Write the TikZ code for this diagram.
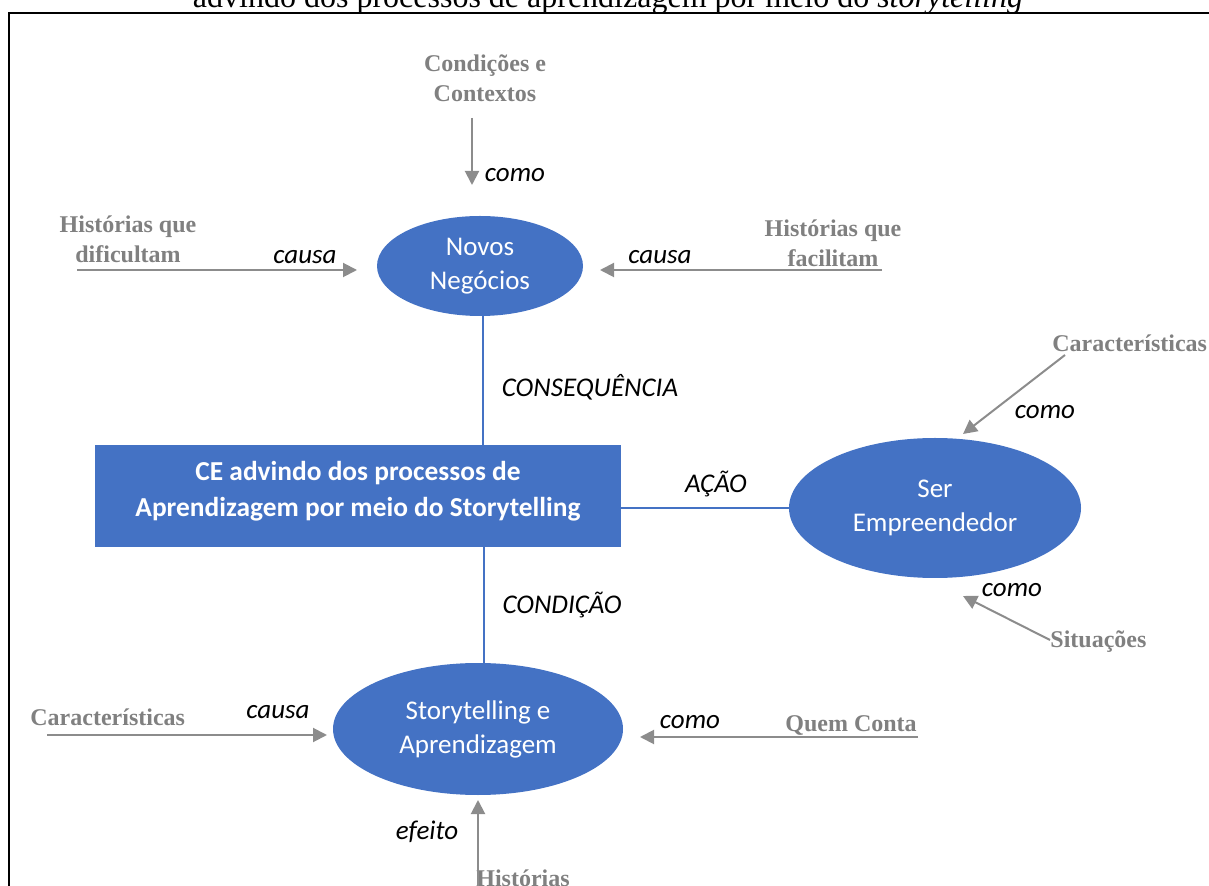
\documentclass[tikz,border=0pt]{standalone}
\usepackage{fontspec}
\setmainfont{Carlito}
\newfontfamily\serifface{Liberation Serif}
\usetikzlibrary{arrows.meta,shapes.geometric}
\definecolor{nodeblue}{HTML}{4472C4}
\definecolor{labelgray}{HTML}{808080}
\definecolor{arrowgray}{HTML}{8C8C8C}
\tikzset{
  concept/.style={ellipse, fill=nodeblue, text=white, inner sep=0pt, align=center,
    font=\fontsize{13.5}{17}\selectfont},
  factor/.style={text=labelgray, inner sep=0pt, align=center,
    font=\serifface\bfseries\fontsize{12}{15}\selectfont},
  relation/.style={inner sep=0pt, font=\itshape\fontsize{13.5}{16}\selectfont},
  influence/.style={draw=arrowgray, line width=1pt, -{Triangle[width=7pt,length=7pt]}},
  link/.style={draw=nodeblue, line width=0.8pt},
}
\begin{document}
\begin{tikzpicture}[x=0.5pt,y=-0.5pt]
\useasboundingbox (0,0) rectangle (1209,886);

% caption running above the frame
\node[anchor=base, inner sep=0pt, font=\serifface\fontsize{16}{19}\selectfont] (caption) at (608,8)
  {advindo dos processos de aprendizagem por meio do \textit{storytelling}};
\draw[line width=1pt] (1209,13) -- (9,13) -- (9,890);

% central concept and the three outcomes
\node[fill=nodeblue, minimum width=263pt, minimum height=51pt, inner sep=0pt] (ce) at (358,496) {};
\node[text=white, inner sep=0pt, align=center, font=\bfseries\fontsize{13.7}{18}\selectfont]
  (cetext) at ([yshift=2.5pt]ce.center)
  {CE advindo dos processos de\\Aprendizagem por meio do Storytelling};
\node[concept, minimum width=103pt, minimum height=50pt] (novos) at (480,266) {Novos\\Negócios};
\node[concept, minimum width=146pt, minimum height=70pt] (ser) at (935,508) {Ser\\Empreendedor};
\node[concept, minimum width=145pt, minimum height=66pt] (story) at (478,729) {Storytelling e\\Aprendizagem};

\draw[link] (novos.south -| 483,0) -- (483,445);
\draw[link] (ser.west) -- (ser.west -| ce.east);
\draw[link] (484,547) -- (story.north -| 484,0);

\node[relation] (consequencia) at (590,387) {CONSEQUÊNCIA};
\node[relation] (acao) at (716,484) {AÇÃO};
\node[relation] (condicao) at (562,605) {CONDIÇÃO};

% factors around Novos Negocios
\node[factor] (condicoes) at (485,78) {Condições e\\Contextos};
\node[factor] (hdific) at (128,239) {Histórias que\\dificultam};
\node[factor] (hfacil) at (833,243) {Histórias que\\facilitam};
\coordinate (condA) at (472,118); \coordinate (condB) at (472,185);
\coordinate (hdA) at (77,270);    \coordinate (hdB) at (357,270);
\coordinate (hfA) at (882,270);   \coordinate (hfB) at (600,270);
\draw[influence] (condA) -- (condB);
\draw[influence] (hdA) -- (hdB);
\draw[influence] (hfA) -- (hfB);
\node[relation] (comoA) at (515,175) {como};
\node[relation] (causaA) at (305,257) {causa};
\node[relation] (causaB) at (660,257) {causa};

% factors around Ser Empreendedor
\node[factor, anchor=west] (caractSer) at (1052,343) {Características};
\node[factor, anchor=west] (situacoes) at (1050,642) {Situações};
\coordinate (csA) at (1065,355); \coordinate (csB) at (963,434);
\coordinate (siA) at (1050,640); \coordinate (siB) at (963,596);
\draw[influence] (csA) -- (csB);
\draw[influence] (siA) -- (siB);
\node[relation] (comoB) at (1045,412) {como};
\node[relation] (comoC) at (1012,590) {como};

% factors around Storytelling e Aprendizagem
\node[factor, anchor=west] (caractStory) at (30,717) {Características};
\node[factor, anchor=west] (quem) at (785,725) {Quem Conta};
\node[factor] (historias) at (523,878) {Histórias};
\coordinate (clA) at (47,735);  \coordinate (clB) at (327,735);
\coordinate (qcA) at (918,737); \coordinate (qcB) at (640,737);
\coordinate (hiA) at (478,890); \coordinate (hiB) at (478,800);
\draw[influence] (clA) -- (clB);
\draw[influence] (qcA) -- (qcB);
\draw[influence] (hiA) -- (hiB);
\node[relation] (causaC) at (278,712) {causa};
\node[relation] (comoD) at (690,722) {como};
\node[relation] (efeito) at (427,832) {efeito};
\end{tikzpicture}
\end{document}
